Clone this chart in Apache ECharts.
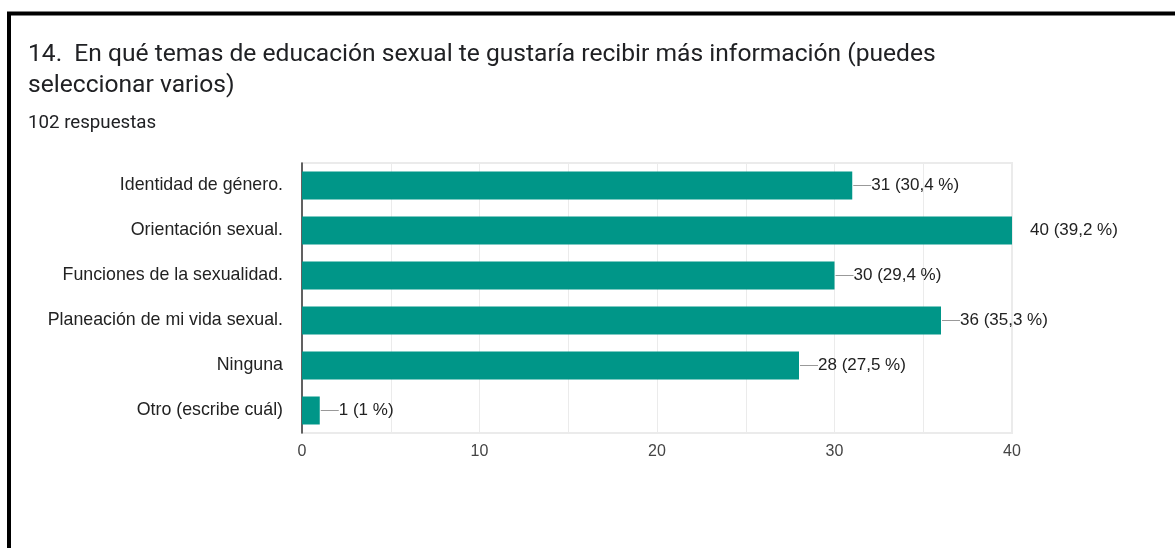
<!DOCTYPE html>
<html>
<head>
<meta charset="utf-8">
<style>
  html, body { margin: 0; padding: 0; background: #fff; }
  #chart { width: 1175px; height: 548px; }
</style>
<script src="https://cdn.jsdelivr.net/npm/echarts@6/dist/echarts.min.js"></script>
</head>
<body>
<div id="chart"></div>
<script>
// datos
const categories = [
    'Identidad de género.',
    'Orientación sexual.',
    'Funciones de la sexualidad.',
    'Planeación de mi vida sexual.',
    'Ninguna',
    'Otro (escribe cuál)'
];
const counts = [31, 40, 30, 36, 28, 1];
const percents = ['30,4', '39,2', '29,4', '35,3', '27,5', '1'];
const xTicks = [0, 10, 20, 30, 40];

const chart = echarts.init(document.getElementById('chart'));

const barData = counts.map((v, i) => {
    let item = { value: v };
    // la barra más larga no lleva la línea guía
    if (v === 40) {
        item.label = {
            distance: 18,
            formatter: v + ' (' + percents[i] + ' %)'
        };
    }
    return item;
});

const option = {
    animation: false,
    title: {
        text: '14.  En qué temas de educación sexual te gustaría recibir más información (puedes\nseleccionar varios)',
        subtext: '102 respuestas',
        left: 23,
        top: 34,
        itemGap: 13,
        textStyle: {
            fontFamily: 'Roboto',
            fontSize: 24.6,
            fontWeight: 'normal',
            color: '#202124',
            lineHeight: 31
        },
        subtextStyle: {
            fontFamily: 'Roboto',
            fontSize: 18.7,
            color: '#202124'
        }
    },
    graphic: [{
        type: 'rect',
        shape: { x: 9, y: 13.5, width: 1300, height: 700 },
        style: { fill: null, stroke: '#000', lineWidth: 4 },
        z: 100
    }],
    grid: {
        left: 302,
        right: 163,
        top: 163,
        bottom: 115,
        show: true,
        borderColor: '#ebebeb',
        borderWidth: 2
    },
    xAxis: {
        type: 'value',
        min: 0,
        max: 40,
        interval: 5,
        axisLine: { show: false },
        axisTick: { show: false },
        splitLine: { lineStyle: { color: '#ebebeb', width: 1 } },
        axisLabel: {
            fontFamily: 'Liberation Sans',
            fontSize: 16,
            color: '#444',
            margin: 11,
            formatter: v => xTicks.indexOf(v) >= 0 ? String(v) : ''
        }
    },
    yAxis: {
        type: 'category',
        data: categories,
        inverse: true,
        axisLine: { show: true, lineStyle: { color: '#333', width: 1.5 } },
        axisTick: { show: false },
        axisLabel: {
            fontFamily: 'Liberation Sans',
            fontSize: 17.8,
            color: '#222',
            margin: 19
        }
    },
    series: [{
        type: 'bar',
        data: barData,
        barWidth: 28,
        itemStyle: { color: '#009688' },
        label: {
            show: true,
            position: 'right',
            distance: 1,
            fontFamily: 'Liberation Sans',
            fontSize: 17,
            color: '#222',
            formatter: p => '{ln| }' + p.value + ' (' + percents[p.dataIndex] + ' %)',
            rich: {
                ln: {
                    width: 18,
                    height: 1,
                    backgroundColor: '#999',
                    verticalAlign: 'middle'
                }
            }
        }
    }]
};

chart.setOption(option);
</script>
</body>
</html>
